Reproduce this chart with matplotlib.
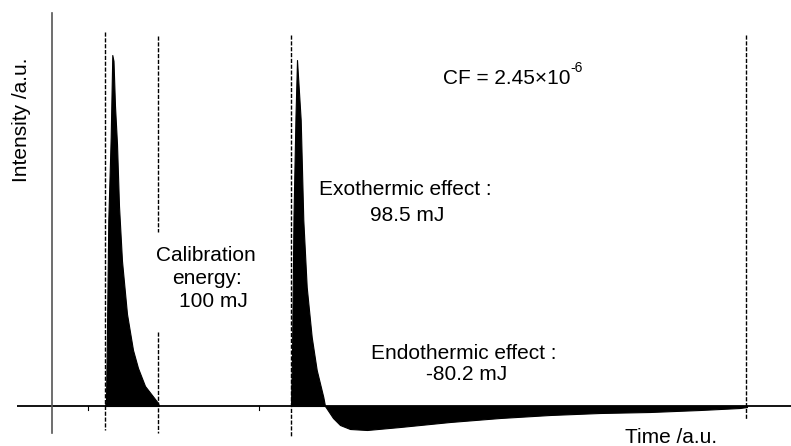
import matplotlib
matplotlib.use("Agg")
import matplotlib.pyplot as plt

plt.rcParams['font.family'] = ['Liberation Sans', 'DejaVu Sans']

# Calibration pulse (time a.u., intensity a.u.)
calib_t = [105, 106, 106.7, 108.3, 110.7, 112.3, 113.5, 115, 117, 119, 122, 127, 133, 138, 145, 155, 158, 159]
calib_I = [0, 6, 53, 186, 269, 351, 345, 300, 262, 200, 145, 92, 56, 38, 20, 7, 3, 0]

# Sample response: exothermic then endothermic
exo_t = [291, 292, 293.5, 295.5, 297, 298, 300.7, 303.3, 306.7, 311.7, 316.7, 323.3, 325,
         333, 340, 350, 367, 400, 450, 500, 550, 600, 650, 700, 740, 747]
exo_I = [0, 50, 190, 290, 346, 330, 286, 186, 119, 69, 36, 9, 0,
         -12, -19, -23, -24, -21, -16, -12, -9, -7, -6, -4, -2, -1]

# Integration limits (dashed markers)
marker_t = [105, 158, 291, 746]

fig = plt.figure(figsize=(7.91, 4.46), dpi=100)
ax = fig.add_axes([0, 0, 1, 1])
ax.set_xlim(0, 791)
ax.set_ylim(-40, 406)
ax.axis('off')

ax.fill_between(calib_t, calib_I, 0, color='black', lw=0.8)
ax.fill_between(exo_t, exo_I, 0, color='black', lw=0.8)

# axes lines
ax.plot([17, 791], [0, 0], color='black', lw=1.3, solid_capstyle='butt')
ax.plot([52, 52], [393, -27], color='#555555', lw=1.2)
for tx in [88, 259]:
    ax.plot([tx, tx], [0, -4], color='black', lw=0.8)

ds = (0, (3, 1.2))
ax.plot([marker_t[0]] * 2, [374, -24], color='black', lw=1.0, linestyle=ds)
ax.plot([marker_t[1]] * 2, [370, 174], color='black', lw=1.0, linestyle=ds)
ax.plot([marker_t[1]] * 2, [74, -27], color='black', lw=1.0, linestyle=ds)
ax.plot([marker_t[2]] * 2, [371, -31], color='black', lw=1.0, linestyle=ds)
ax.plot([marker_t[3]] * 2, [371, -14], color='black', lw=1.0, linestyle=ds)

fs = 15
ax.text(206, 145, "Calibration", ha='center', va='baseline', fontsize=fs)
ax.text(207, 122, "energy:", ha='center', va='baseline', fontsize=fs)
ax.text(213, 99, "100 mJ", ha='center', va='baseline', fontsize=fs)
ax.text(405, 211, "Exothermic effect :", ha='center', va='baseline', fontsize=fs)
ax.text(407, 185, "98.5 mJ", ha='center', va='baseline', fontsize=fs)
ax.text(464, 47, "Endothermic effect :", ha='center', va='baseline', fontsize=fs)
ax.text(467, 26, "-80.2 mJ", ha='center', va='baseline', fontsize=fs)
ax.text(443, 322, "CF = 2.45\u00d710", ha='left', va='baseline', fontsize=fs)
ax.text(570, 334, "-6", ha='left', va='baseline', fontsize=10)
ax.text(625, -37, "Time /a.u.", ha='left', va='baseline', fontsize=fs)
ax.text(22, 286, "Intensity /a.u.", ha='center', va='center', rotation=90, fontsize=fs)

fig.savefig("out.png", dpi=100)
